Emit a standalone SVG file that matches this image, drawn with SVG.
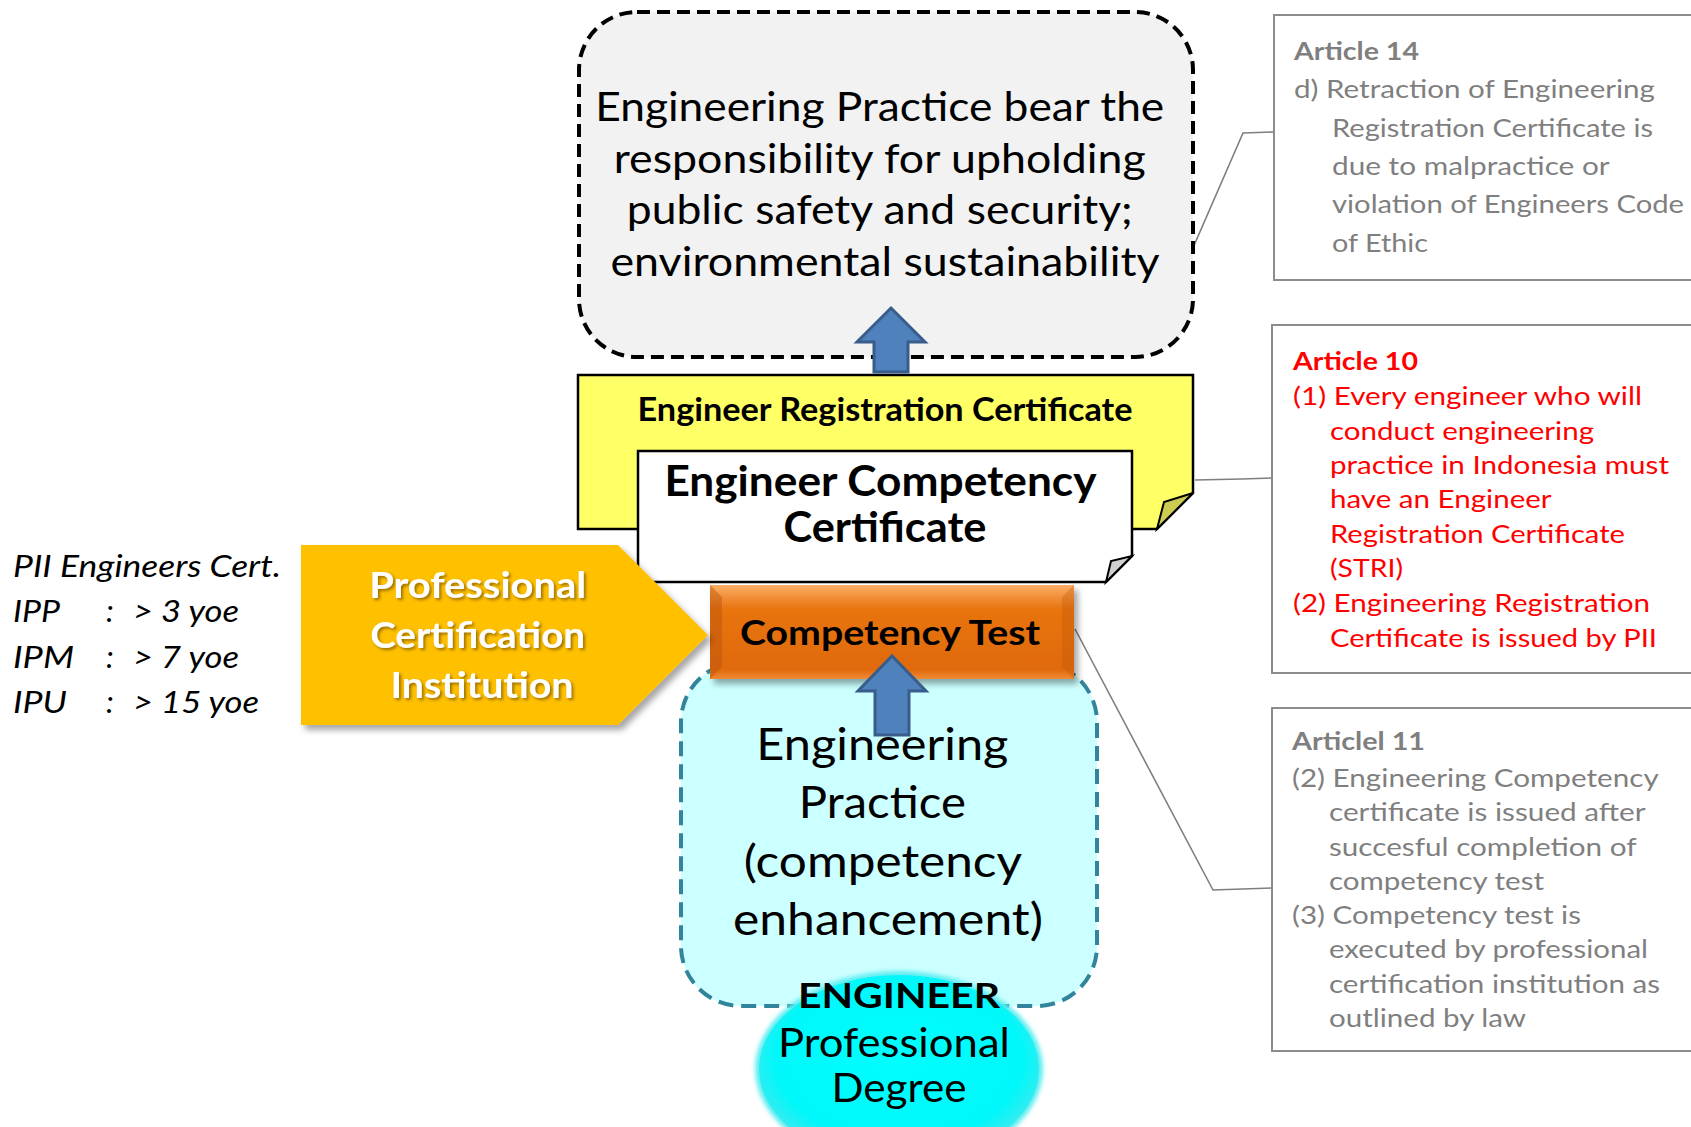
<svg xmlns="http://www.w3.org/2000/svg" width="1691" height="1127" viewBox="0 0 1691 1127">
<defs>
<style>
.f{font-family:Lato,"Open Sans","Liberation Sans",sans-serif}
.c{text-anchor:middle}
.b{font-weight:bold}
.art{font-size:25px}
.grey{fill:#7f7f7f}
.red{fill:#ff0000}
.abox{fill:#ffffff;stroke:#8c8c8c;stroke-width:2}
.conn{fill:none;stroke:#7f7f7f;stroke-width:1.6}
.barrow{fill:#4f81bd;stroke:#385d8a;stroke-width:3;stroke-linejoin:miter}
</style>
<filter id="sh" x="-10%" y="-10%" width="130%" height="140%">
<feDropShadow dx="4" dy="5" stdDeviation="3" flood-color="#000" flood-opacity="0.35"/>
</filter>
<filter id="tsh" x="-10%" y="-20%" width="130%" height="150%">
<feDropShadow dx="2" dy="2" stdDeviation="1.5" flood-color="#5a3c00" flood-opacity="0.6"/>
</filter>
<filter id="glow" x="-10%" y="-10%" width="120%" height="120%">
<feGaussianBlur stdDeviation="2"/>
</filter>
<linearGradient id="og" x1="0" y1="0" x2="0" y2="1">
<stop offset="0" stop-color="#fbae66"/>
<stop offset="0.25" stop-color="#e8740f"/>
<stop offset="0.9" stop-color="#e06a0a"/>
<stop offset="1" stop-color="#f08a36"/>
</linearGradient>
<radialGradient id="cg" cx="0.5" cy="0.45" r="0.55">
<stop offset="0" stop-color="#00ffff"/>
<stop offset="0.8" stop-color="#00f8fa"/>
<stop offset="1" stop-color="#40e8ee"/>
</radialGradient>
</defs>

<g id="connectors">
<polyline class="conn" points="1189,257 1243,133 1274,132"/>
<polyline class="conn" points="1195,480 1242,479 1272,478"/>
<polyline class="conn" points="1075,629 1213,890 1272,888"/>
</g>

<g id="node-responsibility">
<rect x="579" y="12" width="614" height="345" rx="58" ry="58" fill="#f2f2f2" stroke="#000" stroke-width="4" stroke-dasharray="13 7"/>
<text class="f c" font-size="41" fill="#000">
<tspan x="885" y="121" textLength="569" lengthAdjust="spacingAndGlyphs">Engineering Practice bear the</tspan>
<tspan x="885" y="173" textLength="532" lengthAdjust="spacingAndGlyphs">responsibility for upholding</tspan>
<tspan x="885" y="224" textLength="506" lengthAdjust="spacingAndGlyphs">public safety and security;</tspan>
<tspan x="885" y="276" textLength="549" lengthAdjust="spacingAndGlyphs">environmental sustainability</tspan>
</text>
</g>

<g id="node-registration">
<path d="M578,375 H1193 V493 L1157,529 H578 Z" fill="#ffff66" stroke="#000" stroke-width="2.5"/>
<path d="M1193,493 L1157,529 L1164,502 Z" fill="#cccc52" stroke="#000" stroke-width="2"/>
<text class="f c b" font-size="32" x="885" y="421" textLength="495" lengthAdjust="spacingAndGlyphs">Engineer Registration Certificate</text>
</g>

<g id="node-competency-cert">
<path d="M638,451 H1132 V556 L1106,582 H638 Z" fill="#ffffff" stroke="#000" stroke-width="2.5"/>
<path d="M1132,556 L1106,582 L1111,561 Z" fill="#d0d0d0" stroke="#000" stroke-width="2"/>
<text class="f c b" font-size="42" fill="#000">
<tspan x="885" y="496" textLength="431" lengthAdjust="spacingAndGlyphs">Engineer Competency</tspan>
<tspan x="885" y="542" textLength="203" lengthAdjust="spacingAndGlyphs">Certificate</tspan>
</text>
</g>

<g id="node-practice">
<rect x="681" y="662" width="416" height="344" rx="60" ry="60" fill="#ccffff" stroke="#31849b" stroke-width="4" stroke-dasharray="15 8"/>
<text class="f c" font-size="44" fill="#000">
<tspan x="888" y="760" textLength="252" lengthAdjust="spacingAndGlyphs">Engineering</tspan>
<tspan x="888" y="818" textLength="167" lengthAdjust="spacingAndGlyphs">Practice</tspan>
<tspan x="888" y="877" textLength="277" lengthAdjust="spacingAndGlyphs">(competency</tspan>
<tspan x="888" y="935" textLength="310" lengthAdjust="spacingAndGlyphs">enhancement)</tspan>
</text>
</g>

<g id="node-test">
<g filter="url(#sh)">
<rect x="710" y="585" width="364" height="94" fill="url(#og)"/>
</g>
<polygon points="710,585 722,597 722,667 710,679" fill="#b9520a" opacity="0.45"/>
<polygon points="1074,585 1062,597 1062,667 1074,679" fill="#b9520a" opacity="0.3"/>
<text class="f c b" font-size="35" x="890" y="645" textLength="300" lengthAdjust="spacingAndGlyphs" fill="#000">Competency Test</text>
</g>

<g id="arrows">
<path class="barrow" d="M874,372 V342 H857 L891,308 L925,342 H908 V372 Z"/>
<path class="barrow" d="M875,735 V691 H858 L892,656 L926,691 H909 V735 Z"/>
</g>

<g id="node-institution">
<polygon points="301,545 618,545 708,635 618,725 301,725" fill="#ffc000" filter="url(#sh)"/>
<text class="f c b" font-size="36" fill="#ffffff" filter="url(#tsh)">
<tspan x="482" y="598" textLength="217" lengthAdjust="spacingAndGlyphs">Professional</tspan>
<tspan x="482" y="648" textLength="215" lengthAdjust="spacingAndGlyphs">Certification</tspan>
<tspan x="482" y="698" textLength="183" lengthAdjust="spacingAndGlyphs">Institution</tspan>
</text>
</g>

<g id="node-engineer">
<ellipse cx="899" cy="1069" rx="144" ry="98" fill="#5feef2" filter="url(#glow)"/>
<ellipse cx="899" cy="1069" rx="140" ry="94" fill="url(#cg)"/>
<text class="f c b" font-size="35" x="899" y="1008" textLength="202" lengthAdjust="spacingAndGlyphs" fill="#000">ENGINEER</text>
<text class="f c" font-size="40" fill="#000">
<tspan x="899" y="1057" textLength="232" lengthAdjust="spacingAndGlyphs">Professional</tspan>
<tspan x="899" y="1102" textLength="135" lengthAdjust="spacingAndGlyphs">Degree</tspan>
</text>
</g>

<g id="node-pii-cert">
<text class="f" font-size="31" font-style="italic" fill="#000">
<tspan x="13" y="577" textLength="268" lengthAdjust="spacingAndGlyphs">PII Engineers Cert.</tspan>
<tspan x="13" y="622" textLength="47" lengthAdjust="spacingAndGlyphs">IPP</tspan><tspan x="106" y="622">:</tspan><tspan x="133" y="622" textLength="106" lengthAdjust="spacingAndGlyphs">&gt; 3 yoe</tspan>
<tspan x="13" y="668" textLength="61" lengthAdjust="spacingAndGlyphs">IPM</tspan><tspan x="106" y="668">:</tspan><tspan x="133" y="668" textLength="106" lengthAdjust="spacingAndGlyphs">&gt; 7 yoe</tspan>
<tspan x="13" y="713" textLength="54" lengthAdjust="spacingAndGlyphs">IPU</tspan><tspan x="106" y="713">:</tspan><tspan x="133" y="713" textLength="126" lengthAdjust="spacingAndGlyphs">&gt; 15 yoe</tspan>
</text>
</g>

<g id="node-article14">
<rect class="abox" x="1274" y="15" width="430" height="265"/>
<text class="f art grey">
<tspan class="b" x="1294" y="60" textLength="125" lengthAdjust="spacingAndGlyphs">Article 14</tspan>
<tspan x="1294" y="98" textLength="361" lengthAdjust="spacingAndGlyphs">d) Retraction of Engineering</tspan>
<tspan x="1332" y="137" textLength="321" lengthAdjust="spacingAndGlyphs">Registration Certificate is</tspan>
<tspan x="1332" y="175" textLength="277" lengthAdjust="spacingAndGlyphs">due to malpractice or</tspan>
<tspan x="1332" y="213" textLength="352" lengthAdjust="spacingAndGlyphs">violation of Engineers Code</tspan>
<tspan x="1332" y="252" textLength="96" lengthAdjust="spacingAndGlyphs">of Ethic</tspan>
</text>
</g>

<g id="node-article10">
<rect class="abox" x="1272" y="325" width="430" height="348"/>
<text class="f art red">
<tspan class="b" x="1293" y="370" textLength="125" lengthAdjust="spacingAndGlyphs">Article 10</tspan>
<tspan x="1293" y="405" textLength="349" lengthAdjust="spacingAndGlyphs">(1) Every engineer who will</tspan>
<tspan x="1330" y="440" textLength="264" lengthAdjust="spacingAndGlyphs">conduct engineering</tspan>
<tspan x="1330" y="474" textLength="339" lengthAdjust="spacingAndGlyphs">practice in Indonesia must</tspan>
<tspan x="1330" y="508" textLength="221" lengthAdjust="spacingAndGlyphs">have an Engineer</tspan>
<tspan x="1330" y="543" textLength="295" lengthAdjust="spacingAndGlyphs">Registration Certificate</tspan>
<tspan x="1330" y="577" textLength="73" lengthAdjust="spacingAndGlyphs">(STRI)</tspan>
<tspan x="1293" y="612" textLength="357" lengthAdjust="spacingAndGlyphs">(2) Engineering Registration</tspan>
<tspan x="1330" y="647" textLength="327" lengthAdjust="spacingAndGlyphs">Certificate is issued by PII</tspan>
</text>
</g>

<g id="node-article11">
<rect class="abox" x="1272" y="708" width="430" height="343"/>
<text class="f art grey">
<tspan class="b" x="1292" y="750" textLength="133" lengthAdjust="spacingAndGlyphs">Articlel 11</tspan>
<tspan x="1292" y="787" textLength="366" lengthAdjust="spacingAndGlyphs">(2) Engineering Competency</tspan>
<tspan x="1329" y="821" textLength="316" lengthAdjust="spacingAndGlyphs">certificate is issued after</tspan>
<tspan x="1329" y="856" textLength="307" lengthAdjust="spacingAndGlyphs">succesful completion of</tspan>
<tspan x="1329" y="890" textLength="215" lengthAdjust="spacingAndGlyphs">competency test</tspan>
<tspan x="1292" y="924" textLength="289" lengthAdjust="spacingAndGlyphs">(3) Competency test is</tspan>
<tspan x="1329" y="958" textLength="319" lengthAdjust="spacingAndGlyphs">executed by professional</tspan>
<tspan x="1329" y="993" textLength="331" lengthAdjust="spacingAndGlyphs">certification institution as</tspan>
<tspan x="1329" y="1027" textLength="197" lengthAdjust="spacingAndGlyphs">outlined by law</tspan>
</text>
</g>
</svg>
